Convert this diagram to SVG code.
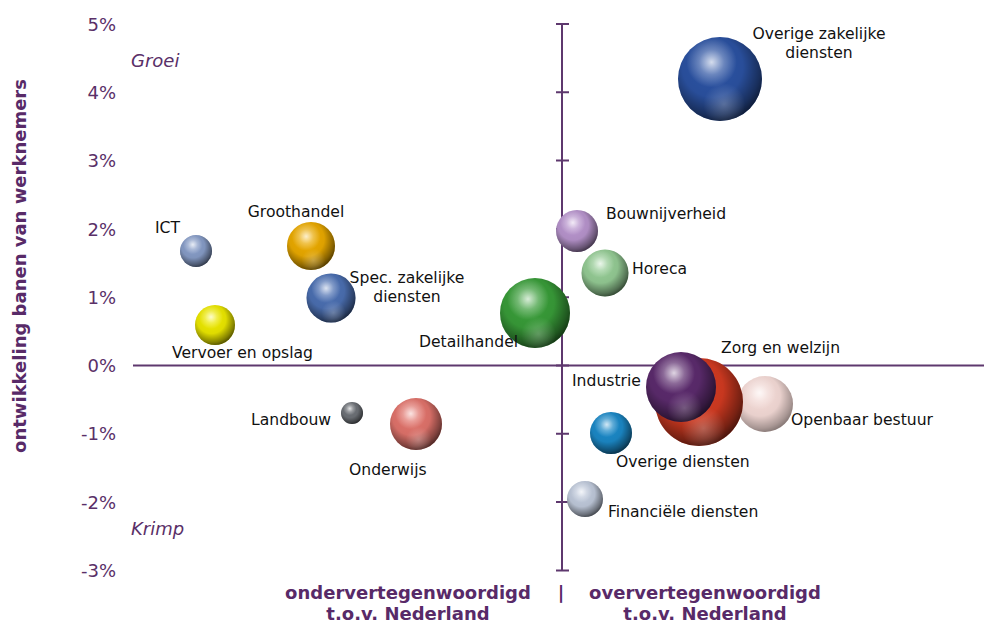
<svg xmlns="http://www.w3.org/2000/svg" width="984" height="624" viewBox="0 0 984 624">
<style>
.ax{stroke:#5e386e;stroke-width:2;fill:none}
.tk{font-family:"DejaVu Sans",Verdana,sans-serif;font-size:18px;fill:#5a3068;text-anchor:end}
.it{font-family:"DejaVu Sans",Verdana,sans-serif;font-size:18px;fill:#5a3068;font-style:italic}
.bt{font-family:"DejaVu Sans",Verdana,sans-serif;font-size:18px;fill:#582a68;font-weight:bold;text-anchor:middle}
.lb{font-family:"DejaVu Sans",Verdana,sans-serif;font-size:15.6px;fill:#111}
.sh{fill:url(#shade)}
.sn{fill:url(#shine)}
.rf{fill:url(#refl)}
</style>
<defs>
<radialGradient id="shade" cx="0.42" cy="0.38" r="0.66" fx="0.4" fy="0.32">
<stop offset="0" stop-color="#000" stop-opacity="0"/>
<stop offset="0.55" stop-color="#000" stop-opacity="0.08"/>
<stop offset="0.85" stop-color="#000" stop-opacity="0.45"/>
<stop offset="1" stop-color="#000" stop-opacity="0.7"/>
</radialGradient>
<radialGradient id="shine" cx="0.4" cy="0.3" r="0.3">
<stop offset="0" stop-color="#fff" stop-opacity="0.8"/>
<stop offset="0.5" stop-color="#fff" stop-opacity="0.3"/>
<stop offset="1" stop-color="#fff" stop-opacity="0"/>
</radialGradient>
<radialGradient id="refl" cx="0.55" cy="0.8" r="0.25">
<stop offset="0" stop-color="#fff" stop-opacity="0.25"/>
<stop offset="1" stop-color="#fff" stop-opacity="0"/>
</radialGradient>
</defs>

<g id="axes">
<line class="ax" x1="133" y1="365.5" x2="984" y2="365.5"/>
<line class="ax" x1="562" y1="24" x2="562" y2="570"/>
<path class="ax" d="M556 24H569M556 92.3H569M556 160.6H569M556 228.9H569M556 297.2H569M556 365.5H569M556 433.8H569M556 502.1H569M556 570.4H569"/>
<text class="tk" x="116" y="30.5">5%</text>
<text class="tk" x="116" y="99">4%</text>
<text class="tk" x="116" y="167">3%</text>
<text class="tk" x="116" y="235.5">2%</text>
<text class="tk" x="116" y="303.5">1%</text>
<text class="tk" x="116" y="372">0%</text>
<text class="tk" x="116" y="440">-1%</text>
<text class="tk" x="116" y="508.5">-2%</text>
<text class="tk" x="116" y="577">-3%</text>
<text class="it" x="131" y="67">Groei</text>
<text class="it" x="131" y="535">Krimp</text>
<text class="bt" x="0" y="0" transform="translate(26,266) rotate(-90)">ontwikkeling banen van werknemers</text>
<text class="bt" x="408" y="599">ondervertegenwoordigd</text>
<text class="bt" x="408" y="620">t.o.v. Nederland</text>
<text class="bt" x="561" y="599">|</text>
<text class="bt" x="705" y="599">oververtegenwoordigd</text>
<text class="bt" x="705" y="620">t.o.v. Nederland</text>
</g>

<g id="overige-zakelijke-diensten">
<circle cx="720" cy="79" r="42" fill="#2c54a6"/><circle class="sh" cx="720" cy="79" r="42"/><circle class="sn" cx="720" cy="79" r="42"/><circle class="rf" cx="720" cy="79" r="42"/>
<text class="lb" x="819" y="39" text-anchor="middle">Overige zakelijke</text>
<text class="lb" x="819" y="58" text-anchor="middle">diensten</text>
</g>
<g id="ict">
<circle cx="196" cy="251" r="16" fill="#8aa0cc"/><circle class="sh" cx="196" cy="251" r="16"/><circle class="sn" cx="196" cy="251" r="16"/>
<text class="lb" x="155" y="233">ICT</text>
</g>
<g id="groothandel">
<circle cx="311" cy="246" r="24" fill="#f0ae00"/><circle class="sh" cx="311" cy="246" r="24"/><circle class="sn" cx="311" cy="246" r="24"/><circle class="rf" cx="311" cy="246" r="24"/>
<text class="lb" x="296" y="217" text-anchor="middle">Groothandel</text>
</g>
<g id="spec-zakelijke-diensten">
<circle cx="331" cy="298" r="24.5" fill="#4d72b6"/><circle class="sh" cx="331" cy="298" r="24.5"/><circle class="sn" cx="331" cy="298" r="24.5"/><circle class="rf" cx="331" cy="298" r="24.5"/>
<text class="lb" x="407" y="283" text-anchor="middle">Spec. zakelijke</text>
<text class="lb" x="407" y="302" text-anchor="middle">diensten</text>
</g>
<g id="vervoer-en-opslag">
<circle cx="215" cy="325" r="20" fill="#f2ee00"/><circle class="sh" cx="215" cy="325" r="20"/><circle class="sn" cx="215" cy="325" r="20"/>
<text class="lb" x="172" y="358">Vervoer en opslag</text>
</g>
<g id="landbouw">
<circle cx="352" cy="413" r="11" fill="#70747a"/><circle class="sh" cx="352" cy="413" r="11"/><circle class="sn" cx="352" cy="413" r="11"/>
<text class="lb" x="251" y="425">Landbouw</text>
</g>
<g id="onderwijs">
<circle cx="416" cy="424" r="26" fill="#e6766e"/><circle class="sh" cx="416" cy="424" r="26"/><circle class="sn" cx="416" cy="424" r="26"/><circle class="rf" cx="416" cy="424" r="26"/>
<text class="lb" x="349" y="475">Onderwijs</text>
</g>
<g id="bouwnijverheid">
<circle cx="577" cy="231" r="21" fill="#bc98d2"/><circle class="sh" cx="577" cy="231" r="21"/><circle class="sn" cx="577" cy="231" r="21"/>
<text class="lb" x="606" y="219">Bouwnijverheid</text>
</g>
<g id="horeca">
<circle cx="605" cy="273" r="23.5" fill="#98d098"/><circle class="sh" cx="605" cy="273" r="23.5"/><circle class="sn" cx="605" cy="273" r="23.5"/>
<text class="lb" x="632" y="274">Horeca</text>
</g>
<g id="detailhandel">
<circle cx="535" cy="313" r="35" fill="#3aa03a"/><circle class="sh" cx="535" cy="313" r="35"/><circle class="sn" cx="535" cy="313" r="35"/><circle class="rf" cx="535" cy="313" r="35"/>
<text class="lb" x="419" y="347">Detailhandel</text>
</g>
<g id="openbaar-bestuur">
<circle cx="765" cy="404" r="28" fill="#f6dcd8"/><circle class="sh" cx="765" cy="404" r="28" opacity="0.7"/><circle class="sn" cx="765" cy="404" r="28"/>
<text class="lb" x="791" y="425">Openbaar bestuur</text>
</g>
<g id="zorg-en-welzijn">
<circle cx="699" cy="402" r="44" fill="#d83c22"/><circle class="sh" cx="699" cy="402" r="44"/><circle class="sn" cx="699" cy="402" r="44"/><circle class="rf" cx="699" cy="402" r="44"/>
<text class="lb" x="721" y="353">Zorg en welzijn</text>
</g>
<g id="industrie">
<circle cx="681" cy="387" r="35" fill="#5e2c70"/><circle class="sh" cx="681" cy="387" r="35"/><circle class="sn" cx="681" cy="387" r="35"/><circle class="rf" cx="681" cy="387" r="35"/>
<text class="lb" x="572" y="386">Industrie</text>
</g>
<g id="overige-diensten">
<circle cx="611" cy="433" r="21" fill="#1c8ccc"/><circle class="sh" cx="611" cy="433" r="21"/><circle class="sn" cx="611" cy="433" r="21"/>
<text class="lb" x="616" y="467">Overige diensten</text>
</g>
<g id="financiele-diensten">
<circle cx="585" cy="499" r="18" fill="#c4cee0"/><circle class="sh" cx="585" cy="499" r="18"/><circle class="sn" cx="585" cy="499" r="18"/>
<text class="lb" x="608" y="517">Financiële diensten</text>
</g>
</svg>
